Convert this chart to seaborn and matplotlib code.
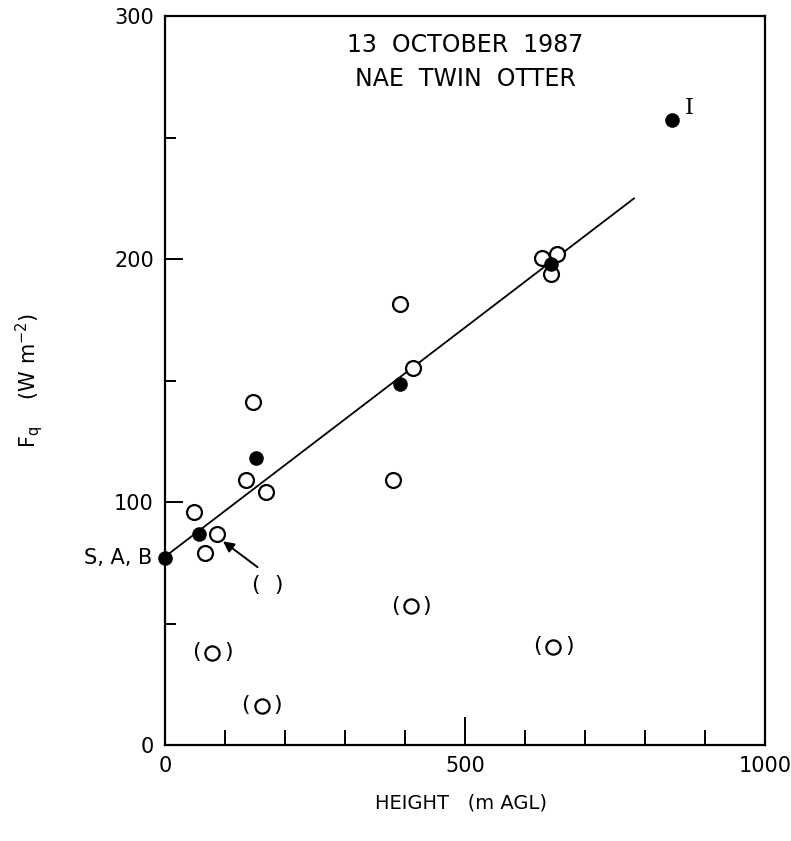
import matplotlib
matplotlib.use("Agg")
import matplotlib.pyplot as plt
import seaborn as sns
import pandas as pd

# ---- data ----
open_x = [146, 135, 168, 49, 87, 67, 392, 413, 380, 628, 654, 643]
open_y = [141, 109, 104, 96, 87, 79, 181.5, 155, 109, 200.5, 202, 194]
filled_x = [0, 56, 152, 392, 643, 845]
filled_y = [77, 87, 118, 148.5, 198, 257]
paren_x = [79, 161, 410, 647]
paren_y = [38, 16, 57, 40.5]
fit_x = [0, 782]
fit_y = [77.5, 225]
xticks_major = [0, 500, 1000]
yticks_major = [0, 100, 200, 300]

sns.set_theme(style="ticks")
plt.rcParams['font.family'] = ['DejaVu Sans']
plt.rcParams['text.color'] = 'black'
plt.rcParams['axes.labelcolor'] = 'black'
plt.rcParams['xtick.color'] = 'black'
plt.rcParams['ytick.color'] = 'black'

fig = plt.figure(figsize=(7.91, 8.41), dpi=100)
ax = fig.add_axes([165/791, 96/841, 600/791, 729/841])

df_open = pd.DataFrame({"x": open_x, "y": open_y})
df_fill = pd.DataFrame({"x": filled_x, "y": filled_y})
df_par = pd.DataFrame({"x": paren_x, "y": paren_y})
df_fit = pd.DataFrame({"x": fit_x, "y": fit_y})

sns.lineplot(data=df_fit, x="x", y="y", ax=ax, color="black", linewidth=1.3, zorder=2)
sns.scatterplot(data=df_open, x="x", y="y", ax=ax, marker="o", s=115,
                facecolor="white", edgecolor="black", linewidth=1.6, zorder=3)
sns.scatterplot(data=df_par, x="x", y="y", ax=ax, marker="o", s=105,
                facecolor="white", edgecolor="black", linewidth=1.6, zorder=3)
sns.scatterplot(data=df_fill, x="x", y="y", ax=ax, marker="o", s=90,
                color="black", edgecolor="black", linewidth=1, zorder=4, clip_on=False)

for px, py in zip(paren_x, paren_y):
    ax.annotate("(", (px, py), xytext=(-11.5, 0.5), textcoords="offset points",
                ha="center", va="center", fontsize=16)
    ax.annotate(")", (px, py), xytext=(11.5, 0.5), textcoords="offset points",
                ha="center", va="center", fontsize=16)

ax.annotate("", xy=(93, 84.5), xytext=(158, 72.5),
            arrowprops=dict(arrowstyle="-|>", color="black", lw=1.4,
                            mutation_scale=16))
ax.text(172, 66, "(  )", ha="center", va="center", fontsize=16)
ax.text(-22, 77, "S, A, B", ha="right", va="center", fontsize=15, clip_on=False)
ax.text(873, 262, "I", ha="center", va="center", fontsize=16, family="DejaVu Serif")

ax.text(500, 288, "13  OCTOBER  1987", ha="center", va="center", fontsize=17)
ax.text(500, 274, "NAE  TWIN  OTTER", ha="center", va="center", fontsize=17)

ax.set_xlim(0, 1000)
ax.set_ylim(0, 300)
ax.set_xticks(xticks_major)
ax.set_yticks(yticks_major)
ax.set_xticks(range(0, 1001, 100), minor=True)
ax.set_yticks(range(0, 301, 50), minor=True)
ax.tick_params(axis="both", which="both", direction="in", labelsize=15, width=1.4,
               pad=8, top=False, right=False)
ax.tick_params(axis="x", which="major", length=20)
ax.tick_params(axis="x", which="minor", length=11)
ax.tick_params(axis="y", which="major", length=13)
ax.tick_params(axis="y", which="minor", length=8)
for lab in ax.get_xticklabels():
    if lab.get_text() == "1000":
        lab.set_horizontalalignment("right")
        lab.set_x(1.0)

for s in ax.spines.values():
    s.set_visible(True)
    s.set_linewidth(1.6)
    s.set_color("black")

ax.set_xlabel("HEIGHT   (m AGL)", fontsize=14)
ax.set_ylabel(r"$\mathrm{F_q}$    (W m$^{-2}$)", fontsize=15)
ax.xaxis.set_label_coords(0.493, -0.067)
ax.yaxis.set_label_coords(-0.2, 0.5)

fig.canvas.draw()
labs = ax.get_xticklabels()
for lab in labs:
    if lab.get_text() == "1000":
        lab.set_ha("center")
fig.savefig("out.png", dpi=100, facecolor="white")
